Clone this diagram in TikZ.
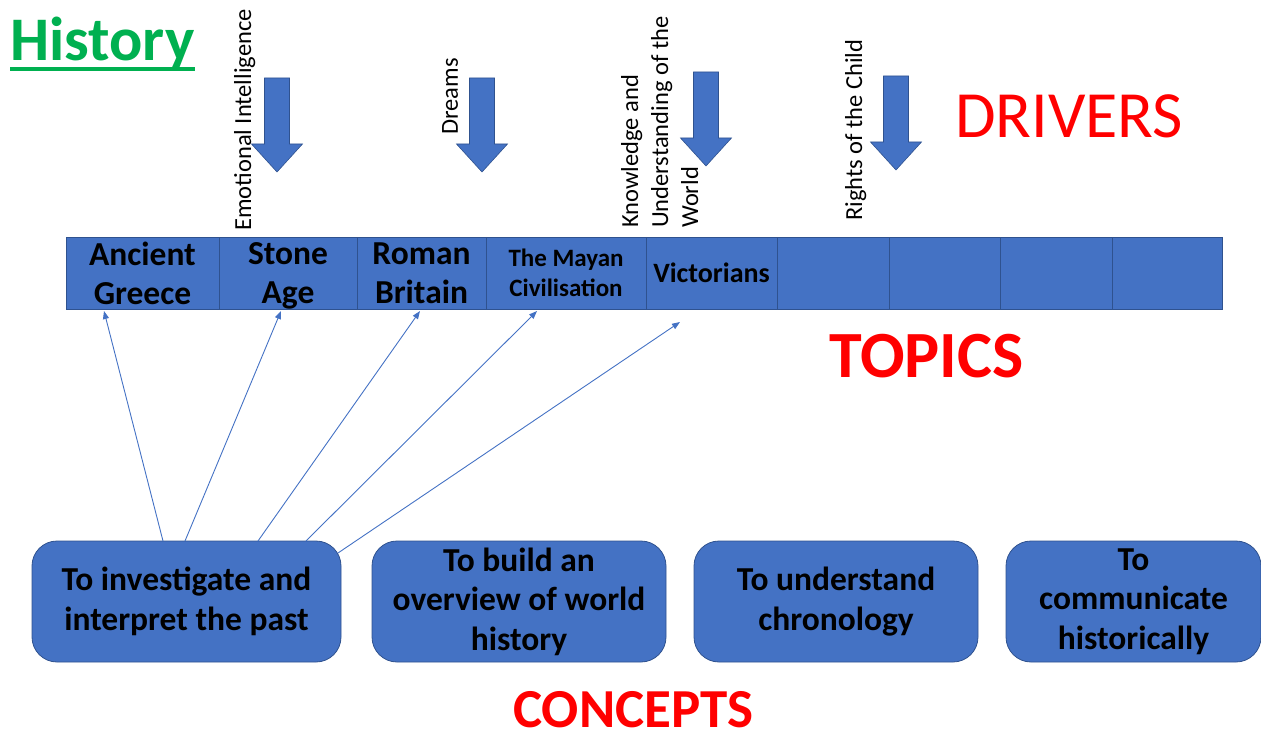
\documentclass[tikz,border=0pt]{standalone}
\usepackage{fontspec}
\setmainfont{Carlito}
\usepackage{tikz}
\usetikzlibrary{positioning, arrows.meta}
\definecolor{boxblue}{HTML}{4472C4}
\definecolor{edgeblue}{HTML}{2F528F}
\definecolor{histgreen}{HTML}{00B050}
\definecolor{headred}{HTML}{FF0000}

\tikzset{
  topic/.style={fill=boxblue, draw=edgeblue, line width=0.8pt, inner sep=0pt, outer sep=0pt,
                minimum height=72pt, align=center,
                font=\bfseries\fontsize{33.5}{39}\selectfont},
  concept/.style={fill=boxblue, draw=edgeblue, line width=0.8pt, rounded corners=25pt,
                  inner sep=0pt, outer sep=0pt, minimum height=121pt, align=center,
                  anchor=north west, font=\bfseries\fontsize{33.5}{39.5}\selectfont},
  driver/.style={rotate=90, anchor=north west, inner sep=0pt, align=left,
                 font=\fontsize{24.5}{30}\selectfont},
  drivearrow/.style={fill=boxblue, draw=edgeblue, line width=0.6pt},
  link/.style={draw=boxblue, line width=0.9pt, -{Triangle[length=8pt,width=6pt]}},
  heading/.style={text=headred, inner sep=0pt, anchor=base west, text depth=0pt}
}

\begin{document}
\begin{tikzpicture}[x=1pt, y=-1pt]
  \useasboundingbox (0,0) rectangle (1261,735);

  \node[heading, text=histgreen, font=\bfseries\fontsize{62}{62}\selectfont]
    (title) at (10,61) {History};
  \draw[histgreen, line width=4pt] ([yshift=-8pt]title.base west) -- ([yshift=-8pt]title.base east);

  % drivers
  \node[driver] (emotion) at (234,231) {Emotional Intelligence};
  \node[driver] (dreams) at (442,135) {Dreams};
  \node[driver] (world) at (621,228) {Knowledge and\\Understanding of the\\World};
  \node[driver] (rights) at (845,221) {Rights of the Child};
  \foreach \cx/\top in {277/78, 482/78, 706/72, 896/76}
    \draw[drivearrow] (\cx-12.5,\top) -- (\cx+12.5,\top) -- (\cx+12.5,\top+66)
      -- (\cx+25.5,\top+66) -- (\cx,\top+94) -- (\cx-25.5,\top+66)
      -- (\cx-12.5,\top+66) -- cycle;
  \node[heading, font=\fontsize{66}{66}\selectfont] (drivers) at (955,138) {DRIVERS};

  % topics
  \node[topic, minimum width=153pt, anchor=north west] (greece) at (66,237) {Ancient\\Greece};
  \node[topic, minimum width=138pt, right=0pt of greece] (stone) {Stone\\\smash{Age}};
  \node[topic, minimum width=129pt, right=0pt of stone] (roman) {Roman\\Britain};
  \node[topic, minimum width=160pt, right=0pt of roman,
        font=\bfseries\fontsize{25}{30}\selectfont] (mayan) {The Mayan\\Civilisation};
  \node[topic, minimum width=131pt, right=0pt of mayan,
        font=\bfseries\fontsize{28}{30}\selectfont] (victorians) {Victorians};
  \node[topic, minimum width=112pt, right=0pt of victorians] (blank1) {};
  \node[topic, minimum width=111pt, right=0pt of blank1] (blank2) {};
  \node[topic, minimum width=112pt, right=0pt of blank2] (blank3) {};
  \node[topic, minimum width=110pt, right=0pt of blank3] (blank4) {};
  \node[heading, font=\bfseries\fontsize{66}{66}\selectfont] (topics) at (829,377) {TOPICS};

  % concepts
  \node[concept, minimum width=309pt] (investigate) at (32,541) {To investigate and\\interpret the past};
  \node[concept, minimum width=294pt] (overview) at (372,541) {To build an\\overview of world\\history};
  \node[concept, minimum width=284pt] (chronology) at (694,541) {To understand\\chronology};
  \node[concept, minimum width=255pt] (communicate) at (1006,541) {To\\communicate\\historically};
  \node[heading, font=\bfseries\fontsize{55}{55}\selectfont] (concepts) at (513,727) {CONCEPTS};

  \draw[link] ([xshift=-23.5pt]investigate.north) -- ([xshift=-38.5pt, yshift=-2pt]greece.south);
  \draw[link] ([xshift=-1.5pt]investigate.north) -- ([xshift=-7pt, yshift=-2pt]stone.south);
  \draw[link] ([xshift=71.5pt]investigate.north) -- ([xshift=-1.5pt, yshift=-2pt]roman.south);
  \draw[link] ([xshift=119.5pt]investigate.north) -- ([xshift=-29pt, yshift=-2pt]mayan.south);
  \draw[link] ([xshift=-3pt, yshift=-12pt]investigate.north east) -- ([xshift=-31.5pt, yshift=-13pt]victorians.south);
\end{tikzpicture}
\end{document}
